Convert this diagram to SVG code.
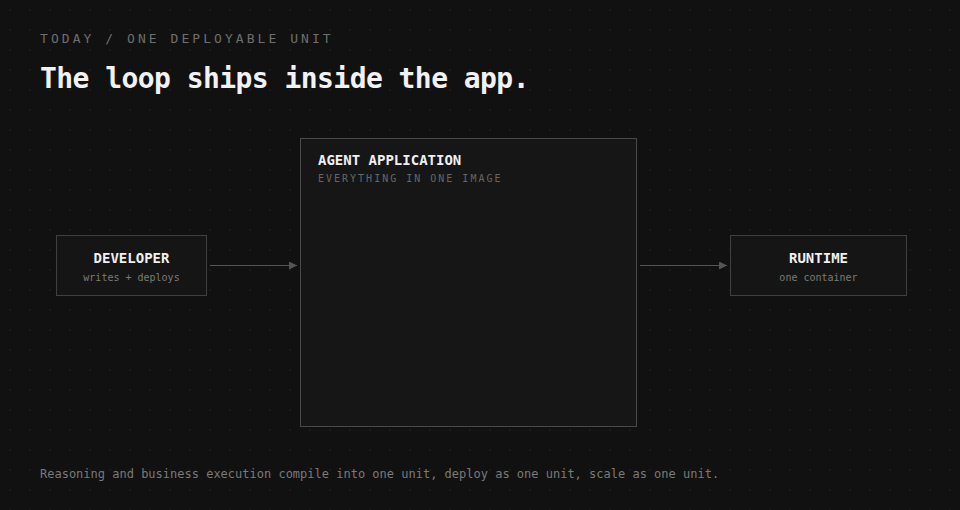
<svg xmlns="http://www.w3.org/2000/svg" width="960" height="510" viewBox="0 0 960 510">
  <defs>
    <pattern id="dots" x="0" y="0" width="20" height="20" patternUnits="userSpaceOnUse">
      <circle cx="10" cy="10" r="1" fill="#1d1d1d"/>
    </pattern>
    <marker id="arr" viewBox="0 0 10 10" refX="10" refY="5" markerWidth="8" markerHeight="8" markerUnits="userSpaceOnUse" orient="auto">
      <path d="M0,0 L10,5 L0,10 Z" fill="#555"/>
    </marker>
  </defs>
  <style>
    text { font-family: "DejaVu Sans Mono", "Liberation Mono", monospace; }
    .eyebrow { font-size: 13px; fill: #6e6e6e; letter-spacing: 3.05px; }
    .title { font-size: 28px; font-weight: bold; fill: #f2f2f2; letter-spacing: -0.56px; }
    .box { fill: #151515; stroke: #404040; stroke-width: 1; }
    .bigbox { fill: #161616; stroke: #4a4a4a; stroke-width: 1; }
    .label { font-size: 14px; font-weight: bold; fill: #f0f0f0; }
    .sub { font-size: 10px; fill: #7a7a7a; }
    .cap { font-size: 10px; fill: #666; letter-spacing: 2px; }
    .foot { font-size: 12px; fill: #7a7a7a; }
    .conn { stroke: #555; stroke-width: 1; fill: none; }
  </style>
  <rect width="960" height="510" fill="#111111"/>
  <rect width="960" height="510" fill="url(#dots)"/>

  <text class="eyebrow" x="40" y="43">TODAY / ONE DEPLOYABLE UNIT</text>
  <text class="title" x="40" y="88">The loop ships inside the app.</text>

  <g id="connectors">
    <line class="conn" x1="210" y1="265.5" x2="297" y2="265.5" marker-end="url(#arr)"/>
    <line class="conn" x1="640" y1="265.5" x2="727" y2="265.5" marker-end="url(#arr)"/>
  </g>

  <g id="developer">
    <rect class="box" x="56.5" y="235.5" width="150" height="60"/>
    <text class="label" x="131.5" y="263" text-anchor="middle">DEVELOPER</text>
    <text class="sub" x="131.5" y="281" text-anchor="middle">writes + deploys</text>
  </g>

  <g id="agent-application">
    <rect class="bigbox" x="300.5" y="138.5" width="336" height="288"/>
    <text class="label" x="318" y="165">AGENT APPLICATION</text>
    <text class="cap" x="318" y="182">EVERYTHING IN ONE IMAGE</text>
  </g>

  <g id="runtime">
    <rect class="box" x="730.5" y="235.5" width="176" height="60"/>
    <text class="label" x="818.5" y="263" text-anchor="middle">RUNTIME</text>
    <text class="sub" x="818.5" y="281" text-anchor="middle">one container</text>
  </g>

  <text class="foot" x="40" y="478">Reasoning and business execution compile into one unit, deploy as one unit, scale as one unit.</text>
</svg>
